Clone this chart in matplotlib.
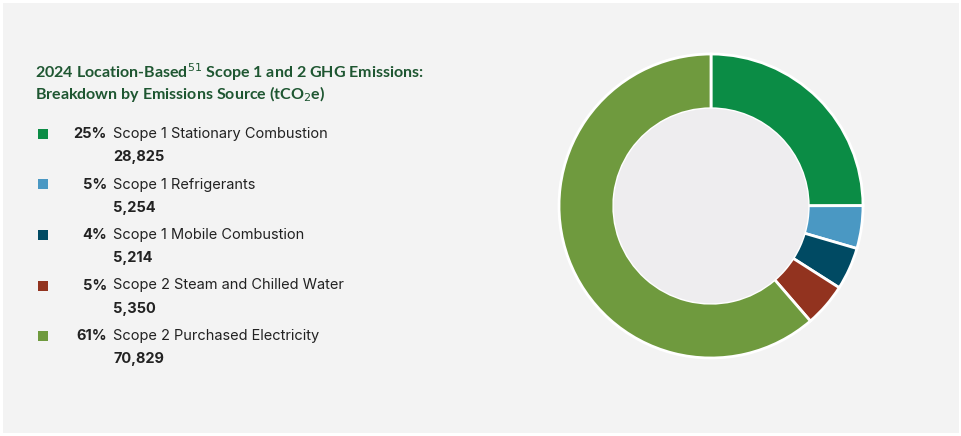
import matplotlib.pyplot as plt
from matplotlib.patches import Rectangle

labels = ['Scope 1 Stationary Combustion', 'Scope 1 Refrigerants', 'Scope 1 Mobile Combustion',
          'Scope 2 Steam and Chilled Water', 'Scope 2 Purchased Electricity']
pcts = ['25%', '5%', '4%', '5%', '61%']
values = [28825, 5254, 5214, 5350, 70829]
colors = ['#0b8c45', '#4a98c3', '#004a63', '#92331f', '#6f9a3e']

fig = plt.figure(figsize=(9.62, 4.36), dpi=100, facecolor='white')
fig.patches.append(Rectangle((3 / 962, 3 / 436), 956 / 962, 430 / 436, transform=fig.transFigure,
                             facecolor='#f3f3f3', edgecolor='none', zorder=-10))

# titel
fig.text(35 / 962, 1 - 72 / 436, '2024 Location-Based$^{51}$ Scope 1 and 2 GHG Emissions:',
         fontsize=11.5, fontweight='bold', color='#1e5631', va='center', family='Lato')
fig.text(35 / 962, 1 - 94 / 436, 'Breakdown by Emissions Source (tCO$_2$e)',
         fontsize=11.5, fontweight='bold', color='#1e5631', va='center', family='Lato')

# legend
for i in range(len(labels)):
    y = 134 + i * 50.5
    fig.patches.append(Rectangle((38 / 962, 1 - (y + 5) / 436), 10 / 962, 10 / 436,
                                 transform=fig.transFigure, facecolor=colors[i], edgecolor='none'))
    fig.text(107 / 962, 1 - y / 436, pcts[i], fontsize=10.5, fontweight='bold', color='#222222',
             ha='right', va='center', family='Inter')
    fig.text(113 / 962, 1 - y / 436, labels[i], fontsize=10.5, color='#222222', va='center', family='Inter')
    fig.text(113 / 962, 1 - (y + 23) / 436, f'{values[i]:,}', fontsize=10.5, fontweight='bold',
             color='#222222', va='center', family='Inter')

ax = fig.add_axes([(711 - 152) / 962, (436 - 206 - 152) / 436, 304 / 962, 304 / 436])
ax.pie(values, colors=colors, startangle=90, counterclock=False, radius=1,
       wedgeprops=dict(width=0.36, edgecolor='white', linewidth=2))
ax.add_patch(plt.Circle((0, 0), 0.64, facecolor='#eeedef', edgecolor='none'))
ax.set_xlim(-1, 1)
ax.set_ylim(-1, 1)
ax.set_aspect('equal')
ax.axis('off')

fig.savefig('out.png', dpi=100, facecolor=fig.get_facecolor())
